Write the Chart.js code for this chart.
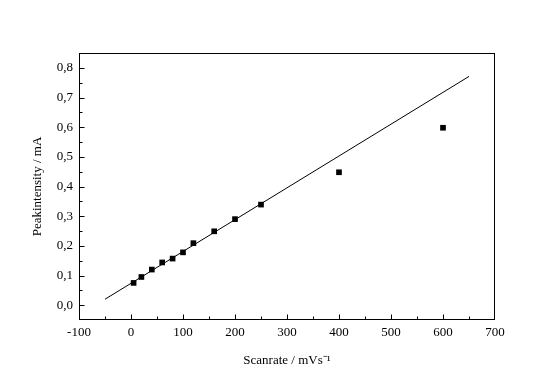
<!DOCTYPE html>
<html>
<head>
<meta charset="utf-8">
<script src="https://cdn.jsdelivr.net/npm/chart.js@4.4.0/dist/chart.umd.min.js"></script>
<style>
  html, body { margin: 0; padding: 0; background: #fff; }
  canvas { display: block; }
</style>
</head>
<body>
<canvas id="chart" width="544" height="378"></canvas>
<script>
// measured points
const scanRate = [5, 20, 40, 60, 80, 100, 120, 160, 200, 250, 400, 600];
const peakIntensity = [0.075, 0.095, 0.12, 0.144, 0.157, 0.178, 0.209, 0.249, 0.29, 0.339, 0.448, 0.598];

// linear fit line end points
const fitX = [-50, 650];
const fitY = [0.02, 0.771];

const xTicks = [-100, 0, 100, 200, 300, 400, 500, 600, 700];
const yTicks = [0, 0.1, 0.2, 0.3, 0.4, 0.5, 0.6, 0.7, 0.8];

const font = { family: '"Liberation Serif", "Times New Roman", serif', size: 13 };

// box frame + inward ticks (major and minor) on left and bottom
const frameTicks = {
  id: 'frameTicks',
  afterDraw(chart) {
    const { ctx, chartArea: a, scales: { x, y } } = chart;
    const L = Math.round(a.left) + 0.5, R = Math.round(a.right) - 0.5;
    const T = Math.round(a.top) + 0.5, B = Math.round(a.bottom) - 0.5;
    const clampX = v => Math.min(R, Math.max(L, Math.round(v) + 0.5));
    const clampY = v => Math.min(B, Math.max(T, Math.round(v) + 0.5));
    ctx.save();
    ctx.strokeStyle = '#000';
    ctx.lineWidth = 1;
    ctx.strokeRect(L, T, R - L, B - T);
    ctx.beginPath();
    for (let i = 0; i < xTicks.length; i++) {
      const px = clampX(x.getPixelForValue(xTicks[i]));
      ctx.moveTo(px, B); ctx.lineTo(px, B - 5);
      if (i < xTicks.length - 1) {
        const mx = clampX(x.getPixelForValue((xTicks[i] + xTicks[i + 1]) / 2));
        ctx.moveTo(mx, B); ctx.lineTo(mx, B - 3);
      }
    }
    for (let i = 0; i < yTicks.length; i++) {
      const py = clampY(y.getPixelForValue(yTicks[i]));
      ctx.moveTo(L, py); ctx.lineTo(L + 5, py);
      if (i < yTicks.length - 1) {
        const my = clampY(y.getPixelForValue((yTicks[i] + yTicks[i + 1]) / 2));
        ctx.moveTo(L, my); ctx.lineTo(L + 3, my);
      }
    }
    ctx.stroke();
    ctx.restore();
  }
};

new Chart(document.getElementById('chart'), {
  type: 'scatter',
  data: {
    datasets: [
      {
        data: scanRate.map((v, i) => ({ x: v, y: peakIntensity[i] })),
        pointStyle: 'rect',
        pointRadius: 4,
        backgroundColor: '#000',
        borderColor: '#000',
        borderWidth: 0
      },
      {
        data: fitX.map((v, i) => ({ x: v, y: fitY[i] })),
        showLine: true,
        pointRadius: 0,
        borderColor: '#000',
        borderWidth: 1
      }
    ]
  },
  options: {
    responsive: false,
    animation: false,
    layout: { padding: { left: 0, top: 53, right: 49, bottom: 0 } },
    plugins: { legend: { display: false }, tooltip: { enabled: false } },
    scales: {
      x: {
        min: -100,
        max: 700,
        afterFit: s => { s.height = 58; },
        afterBuildTicks: s => { s.ticks = xTicks.map(v => ({ value: v })); },
        grid: { display: false, drawTicks: false },
        border: { display: false },
        ticks: { color: '#000', font, padding: 5, maxRotation: 0, autoSkip: false },
        title: { display: true, text: 'Scanrate / mVs\u207B\u00B9', color: '#000', font, padding: { top: 0, bottom: 10 } }
      },
      y: {
        min: -0.05,
        max: 0.85,
        afterFit: s => { s.width = 79; },
        afterBuildTicks: s => { s.ticks = yTicks.map(v => ({ value: v })); },
        grid: { display: false, drawTicks: false },
        border: { display: false },
        ticks: { color: '#000', font, padding: 6, autoSkip: false, callback: v => v.toFixed(1).replace('.', ',') },
        title: { display: true, text: 'Peakintensity / mA', color: '#000', font, padding: { top: 30, bottom: 0 } }
      }
    }
  },
  plugins: [frameTicks]
});
</script>
</body>
</html>
